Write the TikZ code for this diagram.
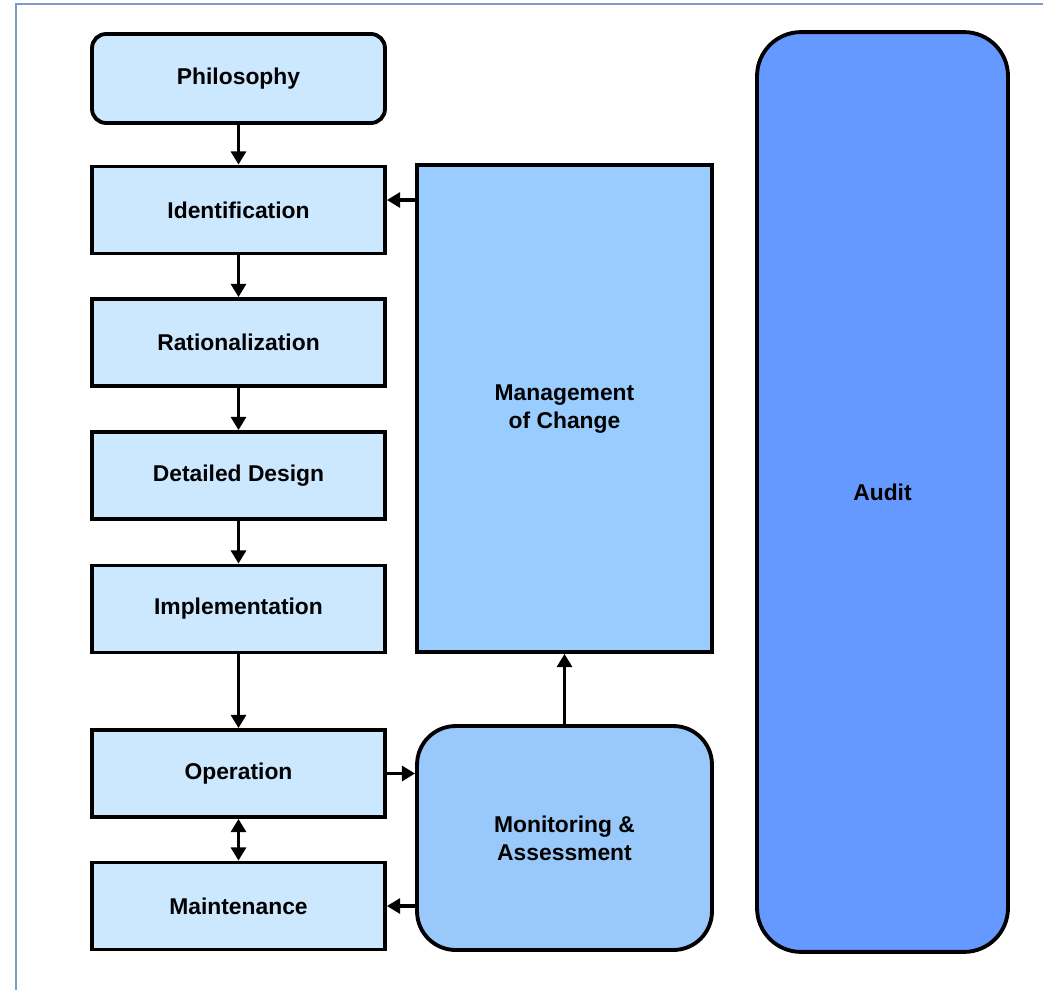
\documentclass[tikz,border=0pt]{standalone}
\usepackage{fontspec}
\setmainfont{Liberation Sans}
\usetikzlibrary{arrows.meta}

\definecolor{stagefill}{RGB}{204,232,255}
\definecolor{changefill}{RGB}{153,204,255}
\definecolor{monfill}{RGB}{153,200,250}
\definecolor{auditfill}{RGB}{102,153,255}
\definecolor{framecol}{RGB}{125,155,205}

\tikzset{
  stage/.style={draw, line width=2.2pt, fill=stagefill, minimum width=5.86cm,
                minimum height=1.74cm, font=\fontsize{13}{16}\selectfont\bfseries},
  bigbox/.style={draw, line width=2.2pt, align=center,
                 font=\fontsize{13}{16}\selectfont\bfseries},
  flow/.style={line width=1.8pt, ->},
}

\begin{document}
\begin{tikzpicture}[x=0.02cm,y=-0.02cm,>={Triangle[length=7.5pt,width=8.5pt]}]

  \useasboundingbox (0,0) rectangle (1043,990);

  % ramecek
  \draw[framecol, line width=1pt] (16,990)--(16,4)--(1043,4);

  % levy sloupec
  \node[stage, rounded corners=8pt, minimum height=1.78cm] (Phil) at (238.5,78.5) {Philosophy};
  \node[stage] (Ident)  at (238.5,210)   {Identification};
  \node[stage] (Ration) at (238.5,342.5) {Rationalization};
  \node[stage] (Design) at (238.5,475.5) {Detailed Design};
  \node[stage] (Impl)   at (238.5,609)   {Implementation};
  \node[stage] (Oper)   at (238.5,773.5) {Operation};
  \node[stage] (Maint)  at (238.5,906)   {Maintenance};

  % prostredni sloupec
  \node[bigbox, fill=changefill, minimum width=5.9cm, minimum height=9.74cm]
       (MoC) at (564.5,408.5) {};
  \node at (564.5,408.5) {\fontsize{13}{16}\selectfont\bfseries
       \begin{tabular}{@{}c@{}}Management\\of Change\end{tabular}};
  \node[bigbox, fill=monfill, rounded corners=22pt, minimum width=5.9cm,
        minimum height=4.48cm] (Mon) at (564.5,838)
       {Monitoring \&\\Assessment};

  % audit
  \node[bigbox, fill=auditfill, rounded corners=25pt, minimum width=5.02cm,
        minimum height=18.4cm] (Audit) at (882.5,492) {Audit};

  % sipky
  \draw[flow] (Phil)   -- (Ident);
  \draw[flow] (Ident)  -- (Ration);
  \draw[flow] (Ration) -- (Design);
  \draw[flow] (Design) -- (Impl);
  \draw[flow] (Impl)   -- (Oper);
  \draw[flow, <->] (Oper) -- (Maint);
  \draw[flow] ([yshift=2mm]MoC.west |- Ident.east) -- ([yshift=2mm]Ident.east);
  \draw[flow] (Oper.east) -- (Oper.east -| Mon.west);
  \draw[flow] (Maint.east -| Mon.west) -- (Maint.east);
  \draw[flow] (Mon) -- (MoC);

\end{tikzpicture}
\end{document}
